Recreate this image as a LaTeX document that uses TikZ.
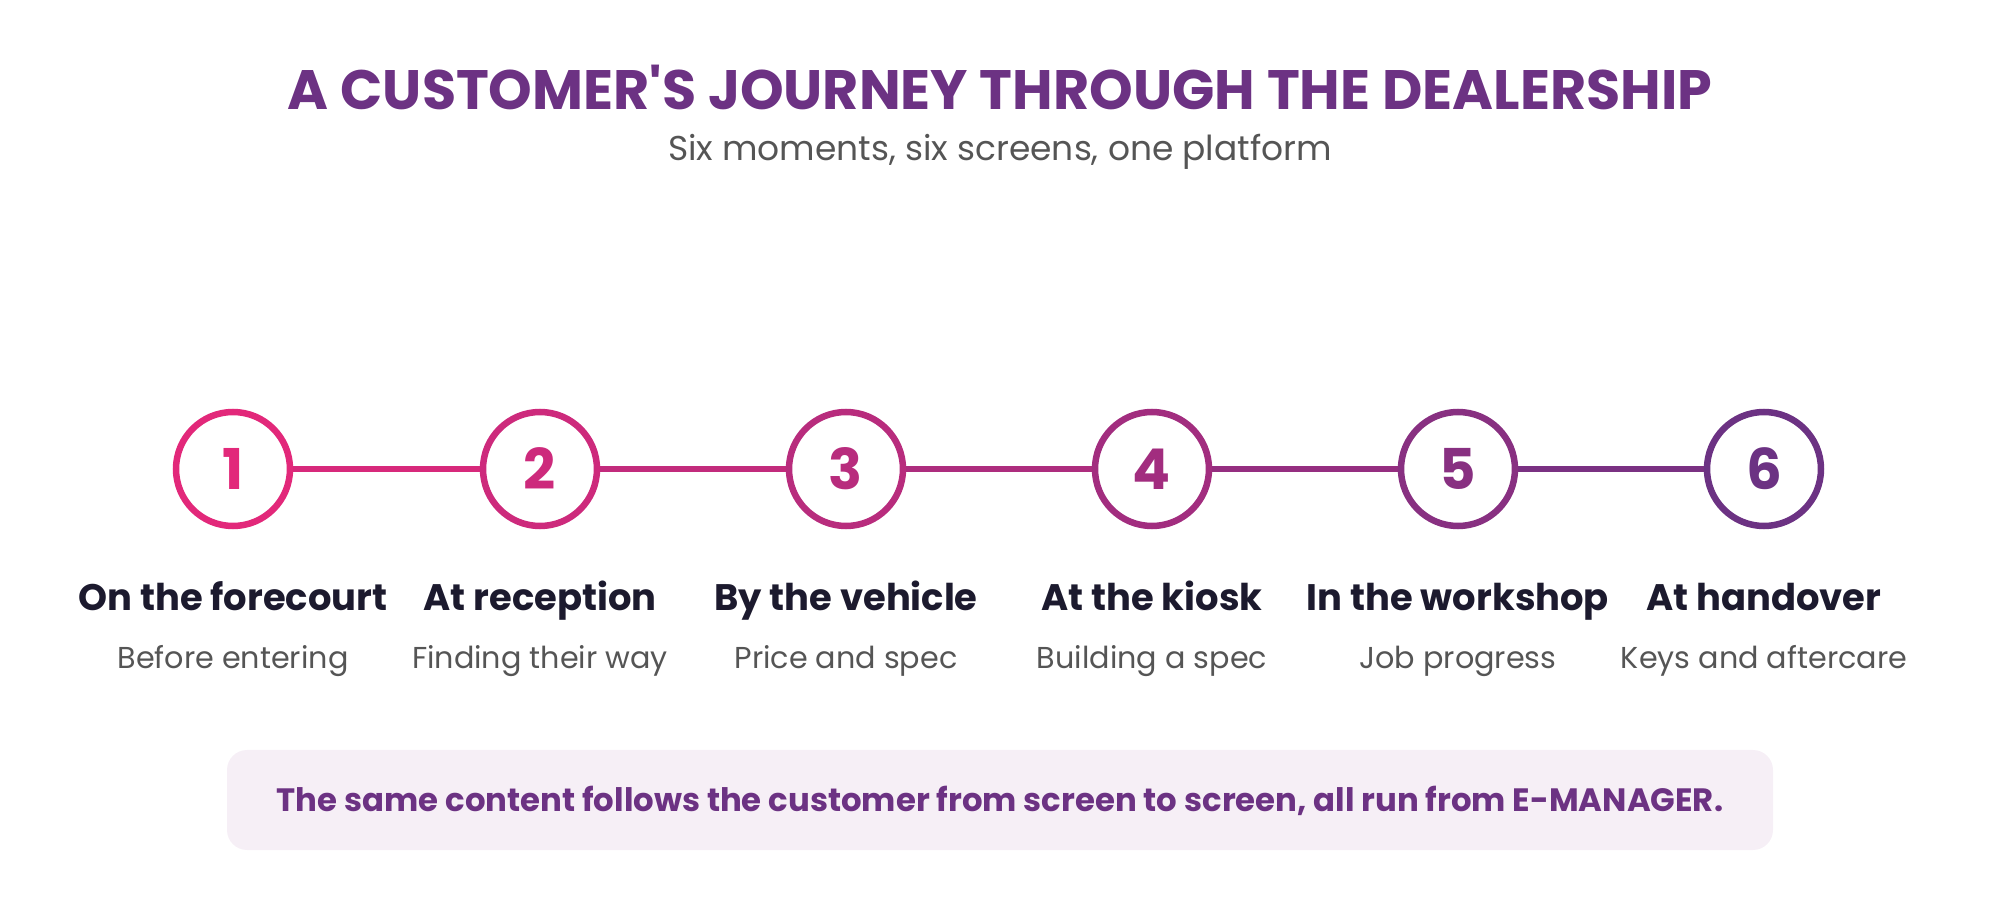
\documentclass[tikz,border=0pt]{standalone}
\usepackage{fontspec}
\setmainfont{Poppins}
\usetikzlibrary{positioning}
\definecolor{startpink}{HTML}{E2287A}
\definecolor{endpurple}{HTML}{6C3283}
\definecolor{inkdark}{HTML}{1C1A2E}
\definecolor{inkgrey}{HTML}{555555}
\definecolor{notefill}{HTML}{F6EFF6}
\tikzset{
  stage/.style={circle, draw, line width=0.65mm, minimum size=11.4mm, fill=white,
               font=\fontsize{16}{18}\selectfont\bfseries, inner sep=0pt},
  head/.style={font=\fontsize{10.5}{12}\selectfont\bfseries, text=inkdark,
               text height=2.8mm, text depth=0.8mm},
  sub/.style={font=\fontsize{8.6}{10}\selectfont, text=inkgrey,
              text height=2.3mm, text depth=0.7mm},
}
\begin{document}
\begin{tikzpicture}[x=0.1mm, y=-0.1mm]
  \useasboundingbox (0,0) rectangle (2000,900);

  \node[font=\fontsize{15.8}{18}\selectfont\bfseries, text=endpurple] (title) at (1000,87)
    {A CUSTOMER\textquotesingle S JOURNEY THROUGH THE DEALERSHIP};
  \node[font=\fontsize{9.8}{12}\selectfont, text=inkgrey] (subtitle) at (1000,152)
    {Six moments, six screens, one platform};

  % connectors
  \foreach \a/\b/\xa/\xb/\mix in {1/2/233/540/91, 2/3/540/846/73, 3/4/846/1152/55, 4/5/1152/1458/35, 5/6/1458/1764/12}{
    \draw[line width=0.6mm, startpink!\mix!endpurple] (\xa,469) -- (\xb,469);
  }

  % stages along the journey
  \foreach \n/\x/\mix/\what/\note in {
      1/233/100/On the forecourt/Before entering,
      2/540/82/At reception/Finding their way,
      3/846/64/By the vehicle/Price and spec,
      4/1152/46/At the kiosk/Building a spec,
      5/1458/24/In the workshop/Job progress,
      6/1764/0/At handover/Keys and aftercare}{
    \colorlet{stagecol}{startpink!\mix!endpurple}
    \node[stage, draw=stagecol, text=stagecol] (s\n) at (\x,469) {\n};
    \node[head] (h\n) at (\x,601) {\what};
    \node[sub] (d\n) at (\x,661) {\note};
  }

  \fill[notefill, rounded corners=2mm] (227,750) rectangle (1773,850);
  \node[font=\fontsize{9.2}{11}\selectfont\bfseries, text=endpurple] (note) at (1000,801)
    {The same content follows the customer from screen to screen, all run from E-MANAGER.};
\end{tikzpicture}
\end{document}
